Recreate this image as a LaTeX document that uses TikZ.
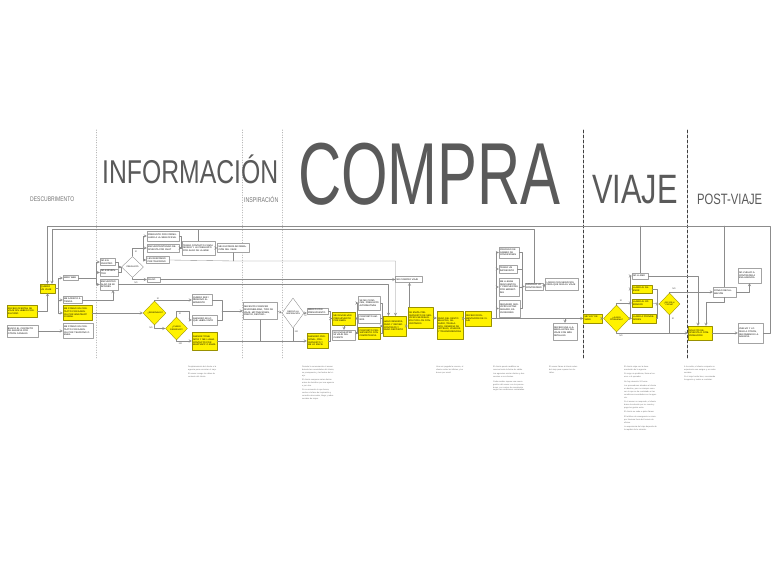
\documentclass[tikz,border=0pt]{standalone}
\usepackage{fontspec}
\setmainfont{Liberation Sans}
\newfontfamily\estrecha[FakeStretch=0.75]{Liberation Sans}
\newfontfamily\muyestrecha[FakeStretch=0.68]{Liberation Sans}
\usetikzlibrary{shapes.geometric}
\definecolor{amarillo}{HTML}{FFF200}
\definecolor{gristit}{HTML}{5A5A5A}
\definecolor{linea}{HTML}{8C8C8C}
\begin{document}
\begin{tikzpicture}[x=1pt,y=-1pt,>=stealth, line join=round, line cap=round,
	caja/.style={draw=linea!80, fill=white, line width=.35pt, inner sep=1pt, align=left, text width=#1, font=\fontsize{2.3}{2.7}\selectfont},
	caja/.default=24,
	amarilla/.style={caja=#1, fill=amarillo, draw=amarillo!60!black},
	amarilla/.default=24,
	rombo/.style={diamond, draw=linea, fill=white, line width=.35pt, inner sep=0pt, align=center, font=\fontsize{2.1}{2.5}\selectfont},
	rombo amarillo/.style={rombo, fill=amarillo, draw=amarillo!60!black},
	flujo/.style={draw=linea, line width=.35pt},
	etiqueta/.style={inner sep=0pt, text=black!70, font=\fontsize{2.2}{2.2}\selectfont},
	titulo/.style={inner sep=0pt, anchor=base west, text=gristit},
	nota/.style={anchor=north west, inner sep=0pt, align=left, text width=#1, text=black!55, font=\fontsize{2}{2.9}\selectfont},
	corte/.style={gray!70, dotted, line width=.5pt},
	corte2/.style={black!75, densely dashed, line width=.6pt}]
	\fill[white] (0,0) rectangle (780,585);
	\useasboundingbox (0,0) rectangle (780,585);
	%Fases
	\draw[corte] (96,130)--(96,358);
	\draw[corte] (242,130)--(242,358);
	\draw[corte] (282,130)--(282,358);
	\draw[corte2] (583,130)--(583,358);
	\draw[corte2] (687,130)--(687,358);
	\node[titulo, text=black!55, font=\estrecha\fontsize{6.7}{6.7}\selectfont] (tdescubrimiento) at (30,202) {DESCUBRIMENTO};
	\node[titulo, font=\estrecha\fontsize{33}{33}\selectfont] (tinformacion) at (102,184) {INFORMACIÓN};
	\node[titulo, text=black!55, font=\estrecha\fontsize{7}{7}\selectfont] (tinspiracion) at (244,203) {INSPIRACIÓN};
	\node[titulo, font=\muyestrecha\fontsize{88}{88}\selectfont] (tcompra) at (298,205) {COMPRA};
	\node[titulo, font=\estrecha\fontsize{41}{41}\selectfont] (tviaje) at (592,204) {VIAJE};
	\node[titulo, font=\estrecha\fontsize{15}{15}\selectfont] (tpostviaje) at (697,205) {POST-VIAJE};
	%Descubrimiento
	\node[amarilla=28, minimum height=12] (recibo) at (22,311) {RECIBO OFERTAS DE VIAJE SIN HABER CONSULTADO};
	\node[caja=29, minimum height=12] (busco) at (22.5,331) {BUSCO EL CONTACTO DE AGENCIA POR OTROS CANALES};
	\node[amarilla=13, minimum height=9] (quiero) at (47.5,288.5) {QUIERO UN VIAJE};
	\node[caja=13, minimum height=5] (miroweb) at (70.5,278) {MIRO WEB};
	\node[caja=17, minimum height=7] (tienda) at (72.5,300) {ME ACERCO A TIENDA};
	\node[amarilla=27, minimum height=15] (contacto) at (77.5,313) {ME PONGO EN CONTACTO CON AGENCIA POR WHATSAPP O EMAIL};
	\node[caja=28, minimum height=15] (retomo) at (78,331) {ME PONGO EN CONTACTO CON AGENCIA POR TELÉFONO O EMAIL};
	%Informacion
	\node[caja=13, minimum height=7] (noenc1) at (107.5,262) {NO ENCUENTRO};
	\node[caja=16, minimum height=7] (noenc2) at (109,272.5) {NO ENCUENTRO};
	\node[caja=16, minimum height=11] (interes) at (109,284.5) {ENCUENTRO ALGO DE MI INTERÉS};
	\node[rombo, minimum width=22, minimum height=21, text width=13] (pregunto) at (132.5,267) {PREGUNTO};
	\node[caja=30, minimum height=10] (formulario) at (163,236) {PREGUNTO POR FORMULARIO A LA WEB OFICIAL};
	\node[caja=30, minimum height=8] (chat) at (163,248) {ENCUENTRO/TENGO RESPUESTA POR CHAT};
	\node[caja=21, minimum height=7] (telefono) at (158,260) {LES RESPONDO POR TELÉFONO};
	\node[caja=31, minimum height=14] (comunicado) at (198.5,248) {TENGO CONTACTO COMUNICADO Y LE PREGUNTO POR ALGO DE LA WEB};
	\node[caja=30, minimum height=9] (gustaria) at (233.5,248) {ME GUSTARÍA INFORMACIÓN DEL VIAJE};
	\node[caja=11, minimum height=5] (falso) at (153.5,279.5) {FALSO};
	\node[caja=25, minimum height=6] (nocompro) at (409,279.5) {NO COMPRO VIAJE};
	\node[rombo amarillo, minimum width=23, minimum height=24, text width=14] (reservado) at (154.5,313) {¿RESERVADO?};
	\node[rombo amarillo, minimum width=22, minimum height=23, text width=13] (puedo) at (176.5,328.5) {¿PUEDO RESERVAR?};
	\node[caja=18, minimum height=11] (alinstante) at (202,300) {QUIERO SER / RESERVO AL MOMENTO};
	\node[caja=23, minimum height=10] (asesoro) at (204.5,320) {ASESORO MI LO QUE HABÍA VISTO};
	\node[amarilla=23, minimum height=18] (asesornota) at (204.5,341) {ASESOR TOMA NOTA Y ME LLAMA. CONTACTO POR WHATSAPP O EMAIL};
	%Inspiracion
	\node[caja=32, minimum height=17] (necesito) at (260,311) {NECESITO CONOCER DISPONIBILIDAD, TIPO DE VIAJE, MOTIVACIONES, PRECIO, DESTINO...};
	\node[rombo, minimum width=22, minimum height=30, text width=14] (decido) at (293,313) {DECIDO LA INSPIRACIÓN};
	%Compra
	\node[caja=19, minimum height=6] (marco) at (317.5,311) {MARCO CON PRESUPUESTO};
	\node[amarilla=19, minimum height=15] (personal) at (317.5,341) {ASESORO PERSONAL, PRESUPUESTO Y ME LO ENVÍA};
	\node[amarilla=21, minimum height=13] (devuelven) at (344,318.5) {ME DEVUELVEN PRESUPUESTO POR EMAIL};
	\node[caja=21, minimum height=10] (nodevuelven) at (344,335) {NO ENCUENTRO MI VIAJE DEL CLIENTE};
	\node[caja=20, minimum height=14] (alternativas) at (369.5,303) {SE ME CONOCEN, PREGUNTO ALTERNATIVAS};
	\node[caja=20, minimum height=9] (ambos) at (369.5,318.5) {CONCRETO AMBOS};
	\node[amarilla=20, minimum height=12] (competencia) at (369.5,333) {CONCRETO PRESUPUESTO CON COMPETENCIA};
	\node[amarilla=21, minimum height=20] (reserva) at (394.5,326) {HAGO RESERVA, PAGO Y RECIBO CONTRATO Y PAGO DEPÓSITO};
	\node[amarilla=23, minimum height=21] (envia) at (420.5,318) {SE ENVÍA PRESUPUESTO DE SERVICIOS NECESARIOS POR LOS CONCERTADOS};
	\node[amarilla=24, minimum height=28] (pago) at (450,325) {PAGO DEL RESTO: BILLETES, SEGURO, TRASLADOS, RESERVA DE HOTELES, VISADOS Y TRANSFERENCIAS};
	\node[amarilla=24, minimum height=15] (documentacion) at (478,318.5) {RECIBO DOCUMENTACIÓN DE VIAJE};
	\node[caja=18, minimum height=11] (cambio) at (509,252.5) {PROCEDO DE CAMBIO DE CONDICIONES};
	\node[caja=16, minimum height=8] (imprevisto) at (508,269) {TENGO UN IMPREVISTO};
	\node[caja=18, minimum height=18] (descuentos) at (509,287) {ME LLEGAN DESCUENTOS Y PROPUESTAS POR MARKETING};
	\node[caja=19, minimum height=17] (extras) at (509.5,308.5) {REQUIERO SERVICIOS EXTRA: SEGURO, EXCURSIONES};
	\node[caja=16, minimum height=7] (cancelo) at (534,286.5) {CANCELO LO CONTRATADO};
	\node[caja=31, minimum height=12] (logro) at (562,284) {LOGRO CON SERVICIOS PARA QUE SIGA EL VIAJE};
	\node[caja=22, minimum height=17] (aviso) at (565,331.5) {RECIBO UNA LLAMADA ANTES DEL VIAJE CON MÁS DETALLES};
	%Viaje
	\node[amarilla=17, minimum height=9] (viajo) at (593,318.5) {ME VOY DE VIAJE};
	\node[rombo amarillo, minimum width=26, minimum height=27, text width=16] (problema) at (616.5,318.5) {¿ALGÚN PROBLEMA?};
	\node[caja=14, minimum height=6] (nollamo) at (640,276) {NO LLAMO};
	\node[amarilla=18, minimum height=8] (asesor) at (642,289) {LLAMO AL ASESOR};
	\node[amarilla=18, minimum height=8] (operador) at (642,303) {LLAMO AL OPERADOR};
	\node[amarilla=22, minimum height=9] (proveedores) at (644,318.5) {LLAMO A PROVEEDORES};
	\node[rombo amarillo, minimum width=21, minimum height=22, text width=12] (soluciona) at (669.5,304) {¿SE SOLUCIONA?};
	%Post-viaje
	\node[caja=21, minimum height=10] (reclamacion) at (724.5,292) {PONGO RECLAMACIÓN};
	\node[caja=21, minimum height=15] (novuelvo) at (749.5,275.5) {NO VUELVO A CONTRATAR A ESA AGENCIA};
	\node[amarilla=22, minimum height=14] (solicito) at (700,333) {SOLICITO RESPUESTA O COMPENSACIÓN};
	\node[caja=23, minimum height=20] (vuelvo) at (750.5,333) {VUELVO Y LO DIGO A OTROS, RECOMIENDO LA AGENCIA};
	%Retorno
	\coordinate (esq1) at (770,226);
	\coordinate (esq2) at (47.5,226);
	\coordinate (t2) at (52,229.5);
	\draw[flujo,->] (vuelvo.east) -| (esq1) -- (esq2) -- (quiero.north);
	\draw[flujo] (nollamo.north) -- (nollamo.north |- esq1);
	\draw[flujo] (reclamacion.north) -- (reclamacion.north |- esq1);
	\draw[flujo,->] (cancelo.north) |- (t2) -- (t2 |- quiero.north);
	\draw[flujo] (comunicado.north) -- (comunicado.north |- t2);
	%Conexiones descubrimiento
	\coordinate (r1) at (58,288.5);
	\draw[flujo,->] (recibo.east) -| (quiero.south);
	\draw[flujo] (quiero.east) -- (r1);
	\draw[flujo,->] (r1) |- (miroweb.west);
	\draw[flujo,->] (r1) |- (tienda.west);
	\draw[flujo,->] (r1) |- (contacto.west);
	\draw[flujo,->] (busco.east) -- (retomo.west);
	%Conexiones informacion
	\coordinate (r2) at (96,278);
	\draw[flujo] (miroweb.east) -- (r2);
	\draw[flujo,->] (r2) |- (noenc1.west);
	\draw[flujo,->] (r2) |- (noenc2.west);
	\draw[flujo,->] (r2) |- (interes.west);
	\draw[flujo,->] (tienda.east) -| ([xshift=4pt]interes.south);
	\draw[flujo,->] (contacto.east) -- (reservado.west);
	\draw[flujo,->] (noenc1.east) -- ++(3,0) |- (pregunto.west);
	\draw[flujo,->] (noenc2.east) -- ++(3,0) |- (pregunto.west);
	\coordinate (si1) at (143,248);
	\draw[flujo] (pregunto.north) |- (si1);
	\draw[flujo,->] (si1) |- (formulario.west);
	\draw[flujo,->] (si1) -- (chat.west);
	\draw[flujo,->] (si1) |- (telefono.west);
	\draw[flujo,->] (pregunto.south) |- (falso.west);
	\node[etiqueta] (lsi1) at (136,251.5) {SÍ};
	\node[etiqueta] (lno1) at (136,282.5) {NO};
	\draw[flujo,->] (formulario.east) -- ++(1.5,0) |- (comunicado.west);
	\draw[flujo,->] (chat.east) -- (comunicado.west);
	\draw[flujo,->] (comunicado.east) -- (gustaria.west);
	\coordinate (r4) at (233.5,261);
	\draw[flujo] (gustaria.south) -- (r4);
	\draw[flujo,->] (telefono.east) -- (r4) -| ([xshift=1pt]reserva.north);
	\draw[flujo,->] (interes.east) -| ([xshift=-6pt]reserva.north);
	\draw[flujo,->] (falso.east) -- (nocompro.west);
	\draw[flujo,->] ([xshift=-11pt]envia.north) -- ([xshift=-11pt]envia.north |- nocompro.south);
	%Reserva
	\draw[flujo,->] (reservado.north) |- (alinstante.west);
	\draw[flujo,->] (reservado.south) |- (puedo.west);
	\coordinate (r5) at (189,311);
	\draw[flujo,->] (puedo.north) |- (r5) |- (asesoro.west);
	\draw[flujo,->] (puedo.south) |- (asesornota.west);
	\node[etiqueta] (lsi2) at (158,299) {SÍ};
	\node[etiqueta] (lno2) at (151,328) {NO};
	\node[etiqueta] (lsi3) at (180,314) {SÍ};
	\node[etiqueta] (lno3) at (180.5,343.5) {NO};
	\coordinate (r6) at (222,311);
	\draw[flujo] (alinstante.east) -| (r6);
	\draw[flujo] (asesoro.east) -| (r6);
	\draw[flujo,->] (r6) -- (necesito.west);
	\draw[flujo,->] (necesito.east) -- (decido.west);
	\draw[flujo,->] (decido.east) -- (decido.east -| marco.west);
	\draw[flujo,->] (asesornota.east) -- (personal.west);
	\draw[flujo] (necesito.south) -- (necesito.south |- personal.west);
	\draw[flujo] (decido.south) -- (decido.south |- personal.west);
	\node[etiqueta] (lsi4) at (305.5,315.5) {SÍ};
	\node[etiqueta] (lno4) at (296.5,332) {NO};
	%Compra
	\draw[flujo,->] (marco.east) -- ++(2,0) |- (devuelven.west);
	\draw[flujo,->] (personal.east) -- ++(2,0) |- (devuelven.west);
	\draw[flujo,->] (devuelven.south) -- (nodevuelven.north);
	\coordinate (r8) at (357,318.5);
	\draw[flujo] (devuelven.east) -- (r8);
	\draw[flujo,->] (r8) |- (alternativas.west);
	\draw[flujo,->] (r8) -- (ambos.west);
	\draw[flujo,->] (r8) |- (competencia.west);
	\coordinate (r9) at (382,326);
	\draw[flujo] (alternativas.east) -| (r9);
	\draw[flujo] (ambos.east) -| (r9);
	\draw[flujo] (competencia.east) -| (r9);
	\draw[flujo,->] (r9) -- (reserva.west);
	\draw[flujo,->] (reserva.east) -- (reserva.east -| envia.west);
	\draw[flujo,->] (envia.east) -- (envia.east -| pago.west);
	\draw[flujo,->] (pago.east |- documentacion.west) -- (documentacion.west);
	\draw[flujo,->] (documentacion.east) -- (viajo.west);
	\coordinate (r10) at (496,318.5);
	\draw[flujo,->] (r10) |- (cambio.west);
	\draw[flujo,->] (r10) |- (imprevisto.west);
	\draw[flujo,->] (r10) |- (descuentos.west);
	\draw[flujo,->] (r10) |- (extras.west);
	\coordinate (r12) at (522,286.5);
	\draw[flujo] (cambio.east) -| (r12);
	\draw[flujo] (imprevisto.east) -| (r12);
	\draw[flujo] (descuentos.east) -| (r12);
	\draw[flujo] (extras.east) -| (r12);
	\draw[flujo,->] (r12) -- (cancelo.west);
	\draw[flujo,->] (cancelo.east) -- (logro.west);
	\coordinate (r11) at (565,318.5);
	\draw[flujo,->] (r11) -- (aviso.north);
	%Viaje
	\draw[flujo,->] (viajo.east) -- (problema.west);
	\coordinate (r13) at (630,303);
	\draw[flujo] (problema.north) |- (r13);
	\draw[flujo,->] (r13) |- (nollamo.west);
	\draw[flujo,->] (r13) |- (asesor.west);
	\draw[flujo,->] (r13) -- (operador.west);
	\draw[flujo,->] (r13) |- (proveedores.west);
	\draw[flujo,->] (problema.south) |- (solicito.west);
	\node[etiqueta] (lsi5) at (621,301) {SÍ};
	\node[etiqueta] (lno5) at (621,336) {NO};
	\coordinate (r14) at (657.5,304);
	\draw[flujo] (asesor.east) -| (r14);
	\draw[flujo] (operador.east) -- (r14);
	\draw[flujo] (proveedores.east) -| (r14);
	\draw[flujo,->] (r14) -- (soluciona.west);
	\draw[flujo,->] (soluciona.north) |- (reclamacion.west);
	\draw[flujo] (soluciona.south) -- (soluciona.south |- solicito.west);
	\node[etiqueta] (lno6) at (674,289) {NO};
	\node[etiqueta] (lsi6) at (673,319) {SÍ};
	\draw[flujo,->] (nollamo.east) -| ([xshift=-2pt]solicito.north);
	%Post-viaje
	\draw[flujo,->] (reclamacion.south) -- ++(0,5) -| ([xshift=6pt]solicito.north);
	\draw[flujo,->] (reclamacion.east) -| (novuelvo.south);
	\draw[flujo,->] (solicito.east) -- (vuelvo.west);
	%Notas
	\node[nota=31] (nota1) at (188,366) {Desplazamiento del cliente a la agencia para concretar el viaje.\\[1.5pt] El asesor recoge los datos de contacto del cliente.};
	\node[nota=33] (nota2) at (302,366) {Durante la conversación el asesor detecta las necesidades del cliente, su presupuesto y las fechas del viaje.\\[1.5pt] El cliente compara varias ofertas antes de decidirse por una agencia o por otra.\\[1.5pt] Si no encuentra lo que busca, vuelve a la fase de inspiración y consulta otras webs, blogs y redes sociales de viajes.};
	\node[nota=31] (nota3) at (436,366) {Una vez pagada la reserva, el cliente recibe los billetes y los bonos por email.};
	\node[nota=32] (nota4) at (493,366) {El cliente puede modificar su reserva hasta la fecha de salida.\\[1.5pt] Las agencias envían ofertas y descuentos a sus clientes.\\[1.5pt] Cada cambio supone una nueva gestión del asesor con los proveedores, con costes de cancelación según las condiciones contratadas.};
	\node[nota=30] (nota5) at (549,366) {El asesor llama al cliente antes del viaje para repasar los detalles.};
	\node[nota=33] (nota6) at (624,366) {El cliente viaja con la documentación de la agencia.\\[1.5pt] Si surge un problema, llama al asesor o al operador.\\[1.5pt] No hay atención 24 horas.\\[1.5pt] Los proveedores atienden al cliente en destino, pero no siempre conocen lo que se ha contratado ni las condiciones acordadas con la agencia.\\[1.5pt] Si el asesor no responde, el cliente busca la solución por su cuenta y paga los gastos extra.\\[1.5pt] El cliente no sabe a quién llamar.\\[1.5pt] El teléfono de emergencia no siempre funciona fuera del horario de oficina.\\[1.5pt] La experiencia del viaje depende de la rapidez de la solución.};
	\node[nota=33] (nota7) at (684,366) {A la vuelta, el cliente comparte su experiencia con amigos y en redes sociales.\\[1.5pt] Si el viaje ha ido bien, recomienda la agencia y vuelve a contratar.};
\end{tikzpicture}
\end{document}
